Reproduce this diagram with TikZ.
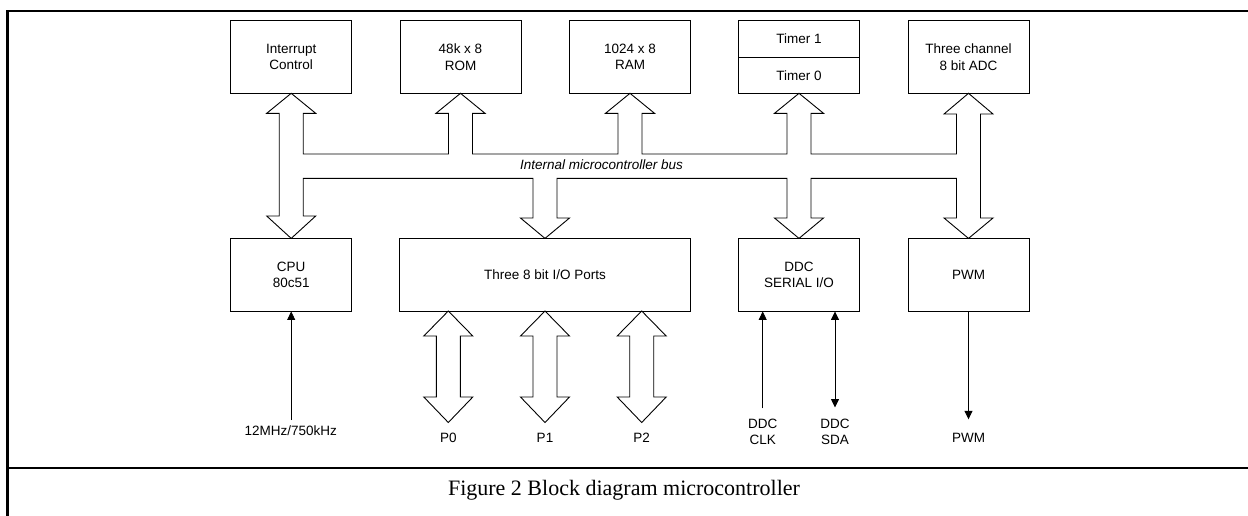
\documentclass[tikz,border=0pt]{standalone}
\usepackage{fontspec}
\setmainfont{Liberation Sans}
\newfontfamily\capfont{Liberation Serif}
\usetikzlibrary{arrows.meta,calc}
\begin{document}
\begin{tikzpicture}[x=1pt,y=-1pt,
  >={Triangle[length=8.5pt,width=8pt]},
  box/.style={draw, line width=0.9pt, minimum width=121pt, minimum height=72.6pt, inner sep=0pt, align=center, font=\fontsize{13.5}{16.5}\selectfont},
  lbl/.style={align=center, inner sep=0pt, font=\fontsize{13.5}{16}\selectfont},
  fat/.style={draw, line width=0.9pt, line join=miter},
  thinarrow/.style={line width=0.8pt},
  framerule/.style={line width=2.5pt}]
\useasboundingbox (0,0) rectangle (1248,515);
% frame
\draw[framerule] (7.5,516) -- (7.5,11) -- (1250,11);
\draw[framerule] (7.5,468) -- (1250,468);
% top row
\node[box] (int) at (291.2,57) {Interrupt\\Control};
\node[box] (rom) at (460.5,57) {48k x 8\\ROM};
\node[box] (ram) at (630,57) {1024 x 8\\RAM};
\node[box] (tim) at (799,57) {};
\draw[line width=0.9pt] (tim.west) -- (tim.east);
\node[lbl] (t1) at (799,38.8) {Timer 1};
\node[lbl] (t0) at (799,75.2) {Timer 0};
\node[box] (adc) at (968.5,57) {Three channel\\8 bit ADC};
% bottom row
\node[box] (cpu) at (291.2,274.7) {CPU\\80c51};
\node[box, minimum width=291.4pt] (io) at (545,274.7) {Three 8 bit I/O Ports};
\node[box] (ddc) at (799,274.7) {DDC\\SERIAL I/O};
\node[box] (pwm) at (968.5,274.7) {PWM};
% internal bus
\draw[fat] (279.2,113.3) -- (266.7,113.3) -- (291.2,93.3) -- (315.7,113.3) -- (303.2,113.3) -- (303.2,154)
 -- (448.5,154) -- (448.5,113.3) -- (436,113.3) -- (460.5,93.3) -- (485,113.3) -- (472.5,113.3) -- (472.5,154)
 -- (618,154) -- (618,113.3) -- (605.5,113.3) -- (630,93.3) -- (654.5,113.3) -- (642,113.3) -- (642,154)
 -- (787,154) -- (787,113.3) -- (774.5,113.3) -- (799,93.3) -- (823.5,113.3) -- (811,113.3) -- (811,154)
 -- (956.5,154) -- (956.5,114) -- (944,114) -- (968.5,93.3) -- (993,114) -- (980.5,114) -- (980.5,218)
 -- (993,218) -- (968.5,238.4) -- (944,218) -- (956.5,218) -- (956.5,178.3)
 -- (811,178.3) -- (811,218) -- (823.5,218) -- (799,238.4) -- (774.5,218) -- (787,218) -- (787,178.3)
 -- (557,178.3) -- (557,218) -- (569.5,218) -- (545,238.4) -- (520.5,218) -- (533,218) -- (533,178.3)
 -- (303.2,178.3) -- (303.2,216) -- (315.7,216) -- (291.2,238.4) -- (266.7,216) -- (279.2,216) -- cycle;
\node[lbl, anchor=base] (bus) at (601.5,169) {\itshape Internal microcontroller bus};
% port arrows
\foreach \x/\n in {448.3/P0,545/P1,641.7/P2}{
  \draw[fat] (\x,311) -- (\x+24.5,336) -- (\x+12,336) -- (\x+12,397) -- (\x+24.5,397) -- (\x,422.5)
    -- (\x-24.5,397) -- (\x-12,397) -- (\x-12,336) -- (\x-24.5,336) -- cycle;
  \node[lbl, anchor=base] (\n) at (\x,442) {\n};
}
% clock input
\node[lbl, anchor=base] (clk) at (290.7,435) {12MHz/750kHz};
\coordinate (clkin) at (291.2,420);
\draw[thinarrow,->] (clkin) -- (cpu.south);
% DDC lines
\node[lbl] (ddcclk) at (762.7,431.5) {DDC\\CLK};
\node[lbl] (ddcsda) at (835,431.5) {DDC\\SDA};
\coordinate (sclin) at (762.7,408.3);
\coordinate (sdain) at (835,407.5);
\draw[thinarrow,->] (sclin) -- (sclin |- ddc.south);
\draw[thinarrow,<->] (sdain) -- (sdain |- ddc.south);
% PWM output
\node[lbl, anchor=base] (pwmout) at (968.5,442) {PWM};
\coordinate (pwmend) at (968.5,419.3);
\draw[thinarrow,->] (pwm.south) -- (pwmend);
% caption
\node[font=\capfont\fontsize{22}{25}\selectfont, anchor=base, inner sep=0pt] (cap) at (624,495) {Figure 2 Block diagram microcontroller};
\end{tikzpicture}
\end{document}
